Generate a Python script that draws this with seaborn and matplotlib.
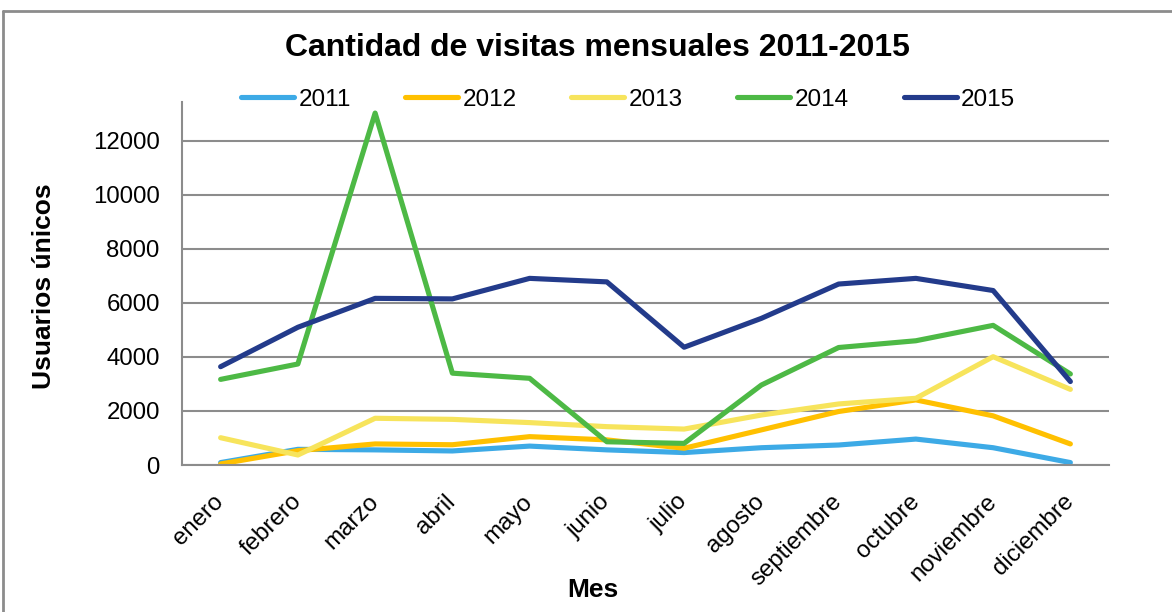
import pandas as pd
import numpy as np
import seaborn as sns
import matplotlib.pyplot as plt
from matplotlib.lines import Line2D

meses = ["enero", "febrero", "marzo", "abril", "mayo", "junio", "julio",
         "agosto", "septiembre", "octubre", "noviembre", "diciembre"]
v2011 = [90, 580, 560, 520, 700, 560, 460, 640, 740, 960, 640, 90]
v2012 = [40, 530, 780, 750, 1050, 930, 620, 1300, 1980, 2410, 1820, 780]
v2013 = [1010, 370, 1730, 1690, 1570, 1420, 1330, 1850, 2260, 2470, 4010, 2800]
v2014 = [3170, 3740, 13030, 3400, 3210, 860, 800, 2960, 4350, 4600, 5170, 3370]
v2015 = [3640, 5100, 6170, 6150, 6910, 6780, 4360, 5430, 6700, 6910, 6460, 3090]
years = ["2011", "2012", "2013", "2014", "2015"]
colores = ["#3DAAE6", "#FFC000", "#F7E45C", "#4DB945", "#233B8B"]

df = pd.DataFrame({"Mes": meses * 5,
                   "Usuarios": v2011 + v2012 + v2013 + v2014 + v2015,
                   "Año": np.repeat(years, 12)})

sns.set_style("white")
plt.rcParams['font.family'] = ['Liberation Sans', 'DejaVu Sans']
plt.rcParams['text.color'] = 'black'
plt.rcParams['xtick.color'] = 'black'
plt.rcParams['ytick.color'] = 'black'
plt.rcParams['axes.labelcolor'] = 'black'

fig = plt.figure(figsize=(11.72, 6.12), dpi=100)
ax = fig.add_axes([182 / 1172, 147 / 612, 927 / 1172, 363 / 612])

sns.lineplot(data=df, x="Mes", y="Usuarios", hue="Año", palette=colores,
             linewidth=3.7, sort=False, ax=ax, legend=False)

grey = "#8C8C8C"
ax.set_xlim(-0.5, 11.5)
ax.set_ylim(0, 13440)
ax.set_yticks(range(0, 12001, 2000))
ax.yaxis.grid(True, color=grey, linewidth=1.5)
ax.set_axisbelow(True)
ax.set_xticks(range(12))
ax.set_xticklabels(meses, rotation=45, ha="right", va="center",
                   rotation_mode="anchor")
ax.set_xticks(np.arange(-0.5, 12, 1), minor=True)
ax.tick_params(axis="x", which="major", length=0, pad=24, labelsize=17.3)
ax.tick_params(axis="x", which="minor", length=6, width=1.5, color=grey)
ax.tick_params(axis="y", length=7, width=1.5, color=grey, labelsize=17.3, pad=9)
for s in ["top", "right"]:
    ax.spines[s].set_visible(False)
for s in ["left", "bottom"]:
    ax.spines[s].set_color(grey)
    ax.spines[s].set_linewidth(1.5)

ax.set_xlabel("Mes", fontsize=19, fontweight="bold", va="center")
ax.xaxis.set_label_coords((593 - 182) / 927, (465 - 590) / 363)
ax.set_ylabel("Usuarios únicos", fontsize=19, fontweight="bold", va="center")
ax.yaxis.set_label_coords((44 - 182) / 927, (465 - 286) / 363)

handles = [Line2D([], [], color=c, linewidth=3.7) for c in colores]
fig.legend(handles, years, loc="center", bbox_to_anchor=(628 / 1172, 1 - 100 / 612),
           ncol=5, frameon=False, fontsize=17.5, handlelength=2.18,
           handletextpad=0.19, columnspacing=2.24)

fig.text(597 / 1172, 1 - 48 / 612, "Cantidad de visitas mensuales 2011-2015",
         ha="center", va="center", fontsize=23, fontweight="bold")

# chart border
fig.add_artist(Line2D([3 / 1172, 3 / 1172], [0, 1 - 11 / 612], color=grey, linewidth=2))
fig.add_artist(Line2D([3 / 1172, 1], [1 - 11 / 612, 1 - 11 / 612], color=grey, linewidth=2))

fig.savefig("out.png", dpi=100)
